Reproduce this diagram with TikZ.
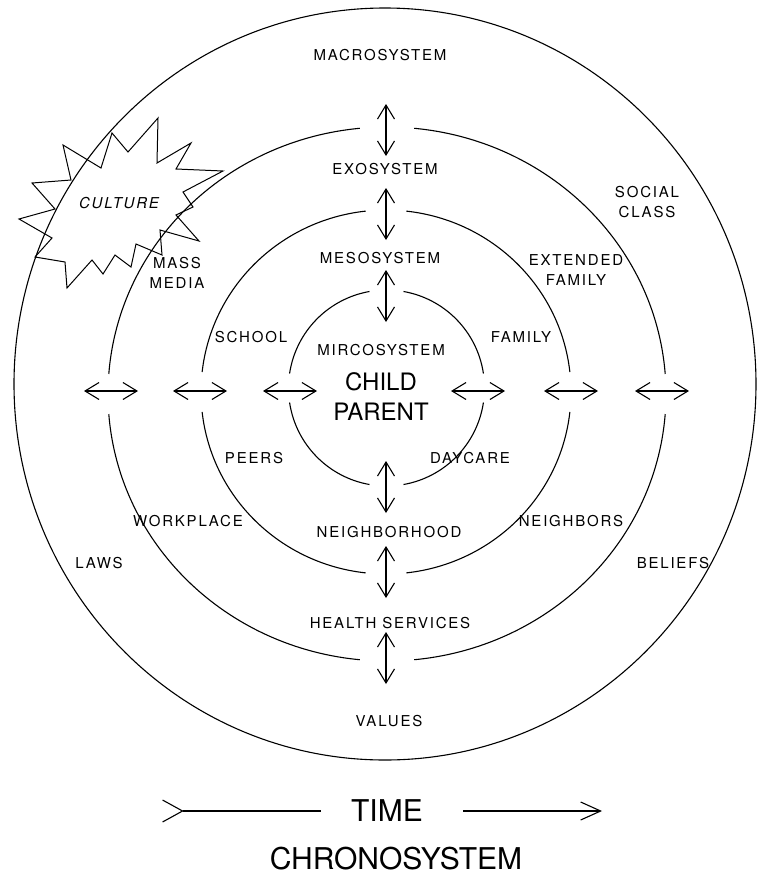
\documentclass[tikz,border=0pt]{standalone}
\usepackage{fontspec}
\setmainfont{TeX Gyre Heros}
\newfontfamily\spaced[LetterSpace=12]{TeX Gyre Heros}
\usetikzlibrary{arrows.meta}

\begin{document}
\begin{tikzpicture}[x=1pt,y=-1pt,line width=1.1pt,
    ring/.style={line width=1.1pt},
    link/.style={{Straight Barb[length=14pt,width=17pt]}-{Straight Barb[length=14pt,width=17pt]}},
    sys/.style={font=\spaced\fontsize{15}{20}\selectfont,align=center,inner sep=0pt},
    big/.style={font=\fontsize{24}{30}\selectfont,align=center,inner sep=0pt},
    title/.style={font=\fontsize{30}{36}\selectfont,inner sep=0pt}]

  \useasboundingbox (0,0) rectangle (756,876);

  % rings
  \draw[ring] (385,384) ellipse [x radius=371pt, y radius=376pt];
  \foreach \s/\e in {4.3/84.4, 95.6/175.7, 184.3/264.4, 275.6/355.7}
    \draw[ring] (387,394) ++(\s:279pt and 267pt)
      arc[start angle=\s, end angle=\e, x radius=279pt, y radius=267pt];
  \foreach \s/\e in {6.3/83.7, 96.3/173.7, 186.3/263.7, 276.3/353.7}
    \draw[ring] (386,392) ++(\s:185pt and 182pt)
      arc[start angle=\s, end angle=\e, x radius=185pt, y radius=182pt];
  \foreach \s/\e in {8.5/80, 100/171.5, 188.5/260, 280/351.5}
    \draw[ring] (386.5,388) ++(\s:98pt) arc[start angle=\s, end angle=\e, radius=98pt];

  % links between the systems
  \foreach \y in {130,214,296,487,572,658}
    \draw[link] (386,\y-26) -- (386,\y+26);
  \foreach \x in {111,200,290,478,571,662}
    \draw[link] (\x-27,391) -- (\x+27,391);

  % culture burst
  \draw[line width=1pt,line join=miter]
    (112,133) -- (128,152) -- (158,118) -- (157,163) -- (191,143) -- (176,169)
    -- (223,171) -- (183,192) -- (193,207) -- (176,215) -- (199,241) -- (160,230)
    -- (162,255) -- (136,244) -- (131,267) -- (115,255) -- (103,274) -- (92,260)
    -- (67,288) -- (65,262) -- (35,257) -- (52,238) -- (19,219) -- (55,209)
    -- (32,183) -- (71,180) -- (63,145) -- (101,168) -- cycle;
  \node[sys,font=\spaced\itshape\fontsize{15}{20}\selectfont] (culture) at (119,203) {CULTURE};

  % labels
  \node[sys] (macro) at (380,55) {MACROSYSTEM};
  \node[sys] (exo) at (385,169) {EXOSYSTEM};
  \node[sys] (meso) at (380,258) {MESOSYSTEM};
  \node[sys] (micro) at (381,350) {MIRCOSYSTEM};
  \node[big] (child) at (381,397) {CHILD\\PARENT};
  \node[sys] (social) at (647,202) {SOCIAL\\CLASS};
  \node[sys] (extended) at (576,270) {EXTENDED\\FAMILY};
  \node[sys] (family) at (521,337) {FAMILY};
  \node[sys] (media) at (177,273) {MASS\\MEDIA};
  \node[sys] (school) at (251,337) {SCHOOL};
  \node[sys] (peers) at (254,458) {PEERS};
  \node[sys] (daycare) at (470,458) {DAYCARE};
  \node[sys] (work) at (188,521) {WORKPLACE};
  \node[sys] (hood) at (389,532) {NEIGHBORHOOD};
  \node[sys] (neighbors) at (571,521) {NEIGHBORS};
  \node[sys] (laws) at (99,563) {LAWS};
  \node[sys] (beliefs) at (673,563) {BELIEFS};
  \node[sys] (health) at (390,623) {HEALTH SERVICES};
  \node[sys] (values) at (389,721) {VALUES};

  % time line
  \node[title] (time) at (387,811) {TIME};
  \node[title] (chrono) at (396,859) {CHRONOSYSTEM};
  \coordinate (tl) at (162,811);
  \coordinate (tr) at (602,811);
  \draw[{Straight Barb[reversed,length=20pt,width=22pt]}-] (tl) -- ([xshift=-30pt]time.west);
  \draw[-{Straight Barb[length=20pt,width=18pt]}] ([xshift=40pt]time.east) -- (tr);
\end{tikzpicture}
\end{document}
